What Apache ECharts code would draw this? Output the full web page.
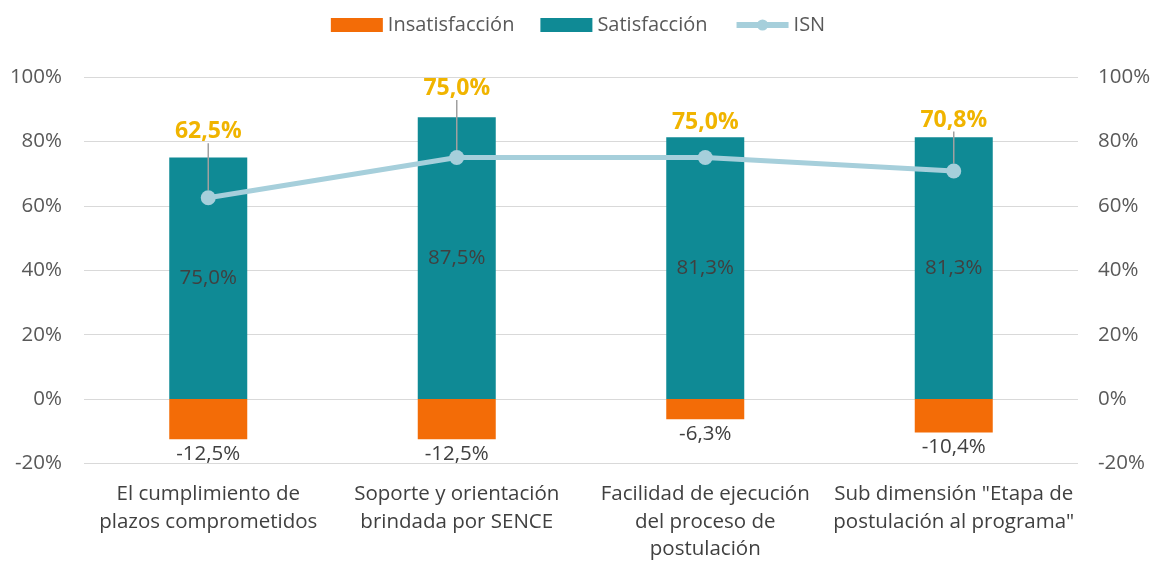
<!DOCTYPE html>
<html>
<head>
<meta charset="utf-8">
<script src="https://cdn.jsdelivr.net/npm/echarts@6/dist/echarts.min.js"></script>
<style>
  html, body { margin: 0; padding: 0; background: #fff; }
  #chart { width: 1156px; height: 563px; }
</style>
</head>
<body>
<div id="chart"></div>
<script>
var categories = [
  'El cumplimiento de\nplazos comprometidos',
  'Soporte y orientación\nbrindada por SENCE',
  'Facilidad de ejecución\ndel proceso de\npostulación',
  'Sub dimensión "Etapa de\npostulación al programa"'
];
var insatisfaccion = [-12.5, -12.5, -6.3, -10.4];
var satisfaccion = [75.0, 87.5, 81.3, 81.3];
var isn = [62.5, 75.0, 75.0, 70.8];
var axisTicks = [-20, 0, 20, 40, 60, 80, 100];

// desplazamiento vertical de las etiquetas ISN (px) y si se ve la guía
var isnLabelDy = [-42, -45, -11, -27];
var isnGuide = [true, true, false, true];

var fontFam = '"Open Sans", "Noto Sans", sans-serif';

function pct(v) {
  return v.toFixed(1).replace('.', ',') + '%';
}

var chart = echarts.init(document.getElementById('chart'));

var yAxisBase = {
  type: 'value',
  min: axisTicks[0],
  max: axisTicks[axisTicks.length - 1],
  interval: 20,
  axisLine: { show: false },
  axisTick: { show: false },
  axisLabel: {
    color: '#595959',
    fontSize: 20.5,
    fontFamily: fontFam,
    formatter: function (v) { return v + '%'; }
  }
};

var isnData = isn.map(function (v, i) {
  return { value: v, labelLine: { show: isnGuide[i] } };
});

var option = {
  animation: false,
  legend: {
    top: 10,
    left: 'center',
    itemWidth: 52,
    itemHeight: 14,
    itemGap: 26,
    textStyle: { color: '#595959', fontSize: 20, fontFamily: fontFam },
    data: [
      { name: 'Insatisfacción', icon: 'rect' },
      { name: 'Satisfacción', icon: 'rect' },
      { name: 'ISN', lineStyle: { width: 6 } }
    ]
  },
  grid: { left: 84, right: 78, top: 77, bottom: 98, containLabel: false },
  xAxis: {
    type: 'category',
    data: categories,
    axisLine: { show: false },
    axisTick: { show: false },
    axisLabel: {
      color: '#404040',
      fontSize: 20.5,
      lineHeight: 27.5,
      fontFamily: fontFam,
      margin: 17,
      interval: 0
    }
  },
  yAxis: [
    Object.assign({}, yAxisBase, {
      position: 'left',
      splitLine: { lineStyle: { color: '#D9D9D9', width: 1 } },
      axisLabel: Object.assign({}, yAxisBase.axisLabel, { margin: 22 })
    }),
    Object.assign({}, yAxisBase, {
      position: 'right',
      splitLine: { show: false },
      axisLabel: Object.assign({}, yAxisBase.axisLabel, { margin: 20 })
    })
  ],
  series: [
    {
      name: 'Insatisfacción',
      type: 'bar',
      stack: 'total',
      barWidth: 78,
      data: insatisfaccion,
      itemStyle: { color: '#F36C07' },
      label: {
        show: true,
        position: 'bottom',
        distance: 4,
        color: '#404040',
        fontSize: 20.5,
        fontFamily: fontFam,
        formatter: function (p) { return pct(p.value); }
      }
    },
    {
      name: 'Satisfacción',
      type: 'bar',
      stack: 'total',
      barWidth: 78,
      data: satisfaccion,
      itemStyle: { color: '#0F8A95' },
      label: {
        show: true,
        position: 'inside',
        color: '#404040',
        fontSize: 20.5,
        fontFamily: fontFam,
        formatter: function (p) { return pct(p.value); }
      }
    },
    {
      name: 'ISN',
      type: 'line',
      data: isnData,
      symbol: 'circle',
      symbolSize: 15,
      z: 5,
      lineStyle: { color: '#A6CFDB', width: 5 },
      itemStyle: { color: '#A6CFDB' },
      label: {
        show: true,
        position: 'top',
        distance: 5,
        color: '#F0B400',
        fontSize: 23,
        fontWeight: 'bold',
        fontFamily: fontFam,
        formatter: function (p) { return pct(p.value); }
      },
      labelLine: {
        show: true,
        lineStyle: { color: '#A0A0A0', width: 1.5 }
      },
      labelLayout: function (params) {
        return { dy: isnLabelDy[params.dataIndex] };
      }
    }
  ]
};

chart.setOption(option);
</script>
</body>
</html>
